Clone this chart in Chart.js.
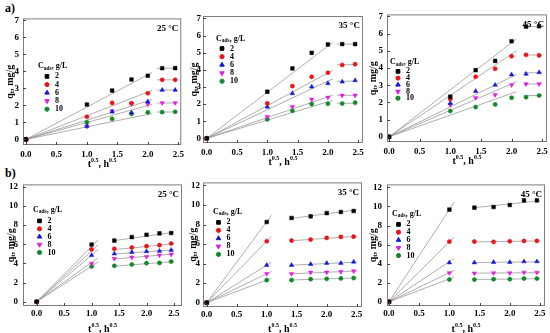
<!DOCTYPE html>
<html>
<head>
<meta charset="utf-8">
<script src="https://cdn.jsdelivr.net/npm/chart.js@4.4.1/dist/chart.umd.min.js"></script>
<style>
  html, body { margin: 0; padding: 0; background: #fff; }
  body { width: 550px; height: 333px; position: relative; overflow: hidden; }
  canvas { position: absolute; }
  .tag { position: absolute; font: bold 12px "Liberation Serif", serif; color: #000; }
</style>
</head>
<body>
<div class="tag" style="left:5px;top:1px">a)</div>
<div class="tag" style="left:5px;top:166px">b)</div>
<canvas id="a1"></canvas>
<canvas id="a2"></canvas>
<canvas id="a3"></canvas>
<canvas id="b1"></canvas>
<canvas id="b2"></canvas>
<canvas id="b3"></canvas>
<script>
// t^0.5 values (t = 0..6 h) and adsorbent doses
const sqrtT = [0, 1, 1.414, 1.732, 2, 2.236, 2.449];
const doses = ['2', '4', '6', '8', '10'];
const xTicks = [0, 0.5, 1, 1.5, 2, 2.5];
const yTicksA = [0, 1, 2, 3, 4, 5, 6, 7];
const yTicksB = [0, 2, 4, 6, 8, 10, 12];

// a) q_t, one row per dose (2, 4, 6, 8, 10 g/L)
const qA25 = [
  [0, 2.05, 2.87, 3.52, 3.74, 4.18, 4.19],
  [0, 1.33, 2.14, 2.12, 2.71, 3.50, 3.50],
  [0, 0.78, 1.62, 1.57, 2.22, 2.90, 2.90],
  [0, 0.76, 1.66, 2.10, 2.07, 2.14, 2.14],
  [0, 1.00, 1.20, 1.50, 1.59, 1.60, 1.62]
];
const qA35 = [
  [0, 2.72, 4.08, 4.99, 5.48, 5.50, 5.50],
  [0, 2.04, 3.05, 3.59, 3.83, 4.28, 4.33],
  [0, 1.84, 2.62, 3.01, 3.21, 3.30, 3.38],
  [0, 1.26, 1.84, 2.28, 2.39, 2.51, 2.51],
  [0, 1.11, 1.61, 2.00, 2.02, 2.03, 2.08]
];
const qA45 = [
  [0, 2.33, 3.87, 4.41, 5.55, 6.40, 6.42],
  [0, 2.19, 3.49, 3.95, 4.68, 4.76, 4.73],
  [0, 1.95, 2.65, 3.01, 3.61, 3.65, 3.74],
  [0, 1.86, 2.27, 2.44, 3.01, 3.07, 3.07],
  [0, 1.50, 1.73, 1.88, 2.27, 2.30, 2.40]
];
// b) q_t
const qB25 = [
  [0, 5.97, 6.38, 6.75, 6.99, 7.13, 7.17],
  [0, 5.46, 5.52, 5.66, 5.80, 5.90, 6.07],
  [0, 4.85, 5.01, 5.18, 5.25, 5.29, 5.39],
  [0, 3.99, 4.50, 4.64, 4.70, 4.85, 4.95],
  [0, 3.68, 3.75, 3.89, 4.03, 4.05, 4.19]
];
const qB35 = [
  [0, 8.26, 8.67, 8.84, 9.17, 9.28, 9.38],
  [0, 6.29, 6.36, 6.46, 6.63, 6.73, 6.76],
  [0, 3.84, 3.84, 3.94, 4.05, 4.05, 4.18],
  [0, 2.96, 2.96, 3.10, 3.12, 3.17, 3.23],
  [0, 2.31, 2.31, 2.41, 2.44, 2.48, 2.52]
];
const qB45 = [
  [0, 9.67, 9.87, 9.94, 10.15, 10.63, 10.63],
  [0, 6.31, 6.31, 6.28, 6.35, 6.38, 6.38],
  [0, 4.11, 4.11, 4.15, 4.15, 4.22, 4.22],
  [0, 3.02, 3.00, 3.02, 3.02, 3.08, 3.08],
  [0, 2.33, 2.33, 2.37, 2.37, 2.44, 2.44]
];

// fitted lines
// first stage: line from origin, y value at its end
const fitA25 = [3.93, 2.88, 2.34, 2.06, 1.52];
const fitA35 = [5.60, 3.97, 3.47, 2.52, 2.22];
const fitA45 = [5.68, 5.00, 3.62, 3.20, 2.62];
const fitB25 = [6.45, 5.95, 5.45, 4.60, 4.15];
const fitB35 = [8.95, 6.80, 4.15, 3.20, 2.50];
const fitB45 = [10.45, 6.80, 4.55, 3.30, 2.60];
// second stage: [start, end] y values
const tailA25 = [[4.18, 4.18], [3.50, 3.50], [2.90, 2.90], [2.14, 2.14], [1.61, 1.61]];
const tailA35 = [[5.50, 5.50], [4.30, 4.30], [3.34, 3.34], [2.51, 2.51], [2.05, 2.05]];
const tailA45 = [[6.40, 6.40], [4.75, 4.75], [3.72, 3.72], [3.07, 3.07], [2.40, 2.40]];
const tailB25 = [[6.35, 7.25], [5.42, 6.05], [4.97, 5.42], [4.45, 4.98], [3.70, 4.20]];
const tailB35 = [[8.60, 9.50], [6.33, 6.80], [3.83, 4.15], [2.95, 3.25], [2.32, 2.53]];
const tailB45 = [[9.85, 10.60], [6.28, 6.38], [4.12, 4.20], [3.00, 3.06], [2.34, 2.42]];

const colors = ['#000000', '#e8141b', '#1717d6', '#e01ee0', '#12882c'];
const shapes = ['rect', 'circle', 'triangle', 'triangle', 'circle'];
const rots = [0, 0, 0, 180, 0];
const radii = [2.6, 2.1, 2.6, 2.6, 2.1];
const FONT = '"Liberation Serif", serif';

const panels = [
  { id: 'a1', temp: '25 °C', q: qA25, fit: fitA25, fitX: 2.07, tail: tailA25, tailX: [2.15, 2.47],
    frame: [23, 17, 183, 145], xr: [-0.049, 2.549], yr: [-0.33, 7.11], yt: yTicksA,
    leg: [15, 48, 24, 58, 8.2], yPad: 4, yTitle: 13, xPad: 4, xTitle: 19 },
  { id: 'a2', temp: '35 °C', q: qA35, fit: fitA35, fitX: 2.08, tail: tailA35, tailX: [2.15, 2.47],
    frame: [203, 16, 363, 143], xr: [-0.061, 2.578], yr: [-0.27, 7.14], yt: yTicksA,
    leg: [13, 23, 19, 32.5, 8.2], yPad: 2, yTitle: 9, xPad: 4, xTitle: 19 },
  { id: 'a3', temp: '45 °C', q: qA45, fit: fitA45, fitX: 2.08, tail: tailA45, tailX: [2.2, 2.5],
    frame: [387, 13, 547, 142], xr: [-0.033, 2.577], yr: [-0.30, 7.11], yt: yTicksA,
    leg: [3, 48, 11, 57, 6.7], yPad: 4, yTitle: 14, xPad: 4, xTitle: 19 },
  { id: 'b1', temp: '25 °C', q: qB25, fit: fitB25, fitX: 1.12, tail: tailB25, tailX: [1.38, 2.5],
    frame: [23, 182, 182, 306], xr: [-0.249, 2.646], yr: [-0.44, 12.24], yt: yTicksB,
    leg: [10, 25.5, 16.5, 36.5, 7.9], yPad: 5, yTitle: 12, xPad: 2, xTitle: 23 },
  { id: 'b2', temp: '35 °C', q: qB35, fit: fitB35, fitX: 1.08, tail: tailB35, tailX: [1.38, 2.5],
    frame: [203, 182, 362, 307], xr: [-0.062, 2.588], yr: [-0.44, 12.31], yt: yTicksB,
    leg: [10, 29.5, 15.5, 40, 8], yPad: 3, yTitle: 10, xPad: 2, xTitle: 22 },
  { id: 'b3', temp: '45 °C', q: qB45, fit: fitB45, fitX: 1.08, tail: tailB45, tailX: [1.38, 2.5],
    frame: [387, 182, 545, 306], xr: [-0.033, 2.583], yr: [-0.44, 12.31], yt: yTicksB,
    leg: [5, 29.5, 11.5, 40, 7.8], yPad: 5, yTitle: 14, xPad: 2, xTitle: 23 }
];

function rich(ctx, parts, x, y, align) {
  let w = 0;
  parts.forEach(p => { ctx.font = 'bold ' + p[1] + 'px ' + FONT; w += ctx.measureText(p[0]).width; });
  let cx = align === 'center' ? x - w / 2 : (align === 'right' ? x - w : x);
  ctx.textAlign = 'left';
  ctx.textBaseline = 'middle';
  parts.forEach(p => {
    ctx.font = 'bold ' + p[1] + 'px ' + FONT;
    ctx.fillText(p[0], cx, y + (p[2] || 0));
    cx += ctx.measureText(p[0]).width;
  });
}

const decor = {
  id: 'decor',
  afterDraw(chart, args, o) {
    const { ctx, chartArea: a, scales: { x, y } } = chart;
    ctx.save();
    // frame
    ctx.strokeStyle = '#7d7d7d';
    ctx.lineWidth = 1;
    ctx.strokeRect(a.left + 0.5, a.top + 0.5, a.right - a.left - 1, a.bottom - a.top - 1);
    // inward ticks
    ctx.strokeStyle = '#444';
    ctx.beginPath();
    x.ticks.forEach(t => {
      const px = Math.round(x.getPixelForValue(t.value)) + 0.5;
      ctx.moveTo(px, a.bottom); ctx.lineTo(px, a.bottom - 3);
    });
    y.ticks.forEach(t => {
      const py = Math.round(y.getPixelForValue(t.value)) + 0.5;
      ctx.moveTo(a.left, py); ctx.lineTo(a.left + 3, py);
    });
    ctx.stroke();
    ctx.fillStyle = '#000';
    // temperature
    ctx.font = 'bold 9px ' + FONT;
    ctx.textAlign = 'right';
    ctx.textBaseline = 'middle';
    ctx.fillText(o.temp, a.right - 3, a.top + 10);
    // axis titles
    rich(ctx, [['t', 10], ['0.5', 6, -3.5], [', h', 10], ['0.5', 6, -3.5]], (a.left + a.right) / 2, a.bottom + o.xTitle, 'center');
    ctx.save();
    ctx.translate(a.left - o.yTitle, (a.top + a.bottom) / 2);
    ctx.rotate(-Math.PI / 2);
    rich(ctx, [['q', 10], ['t', 7, 2.5], [', mg/g', 10]], 0, 0, 'center');
    ctx.restore();
    // legend
    const [hx, hy, mx, ey, dy] = o.leg;
    rich(ctx, [['C', 8], ['ads', 5.5, 2], [', g/L', 8]], a.left + hx, a.top + hy, 'left');
    doses.forEach((d, i) => {
      const yy = a.top + ey + i * dy;
      ctx.fillStyle = colors[i];
      ctx.strokeStyle = colors[i];
      Chart.helpers.drawPoint(ctx, { pointStyle: shapes[i], rotation: rots[i], radius: radii[i], borderWidth: 0.5 }, a.left + mx, yy);
      ctx.fillStyle = '#000';
      ctx.font = 'bold 8px ' + FONT;
      ctx.textAlign = 'left';
      ctx.textBaseline = 'middle';
      ctx.fillText(d, a.left + mx + 8, yy);
    });
    ctx.restore();
  }
};

const PL = 22, PT = 8, PR = 5, PB = 30;

panels.forEach(p => {
  const [L, T, R, B] = p.frame;
  const cv = document.getElementById(p.id);
  const w = R - L + PL + PR, h = B - T + PT + PB;
  cv.width = w; cv.height = h;
  cv.style.left = (L - PL) + 'px';
  cv.style.top = (T - PT) + 'px';
  cv.style.width = w + 'px';
  cv.style.height = h + 'px';

  const datasets = [];
  p.q.forEach((row, i) => {
    datasets.push({
      data: row.map((v, j) => ({ x: sqrtT[j], y: v })),
      showLine: false,
      pointStyle: shapes[i],
      rotation: rots[i],
      pointRadius: radii[i],
      pointBackgroundColor: colors[i],
      pointBorderColor: colors[i],
      pointBorderWidth: 0.5,
      order: 0
    });
  });
  p.fit.forEach(v => {
    datasets.push({
      data: [{ x: 0, y: 0 }, { x: p.fitX, y: v }],
      showLine: true, borderColor: '#9a9a9a', borderWidth: 0.8, pointRadius: 0, order: 1
    });
  });
  p.tail.forEach(v => {
    datasets.push({
      data: [{ x: p.tailX[0], y: v[0] }, { x: p.tailX[1], y: v[1] }],
      showLine: true, borderColor: '#9a9a9a', borderWidth: 0.8, pointRadius: 0, order: 1
    });
  });

  const tickFont = { family: FONT, size: 9, weight: 'bold' };
  new Chart(cv, {
    type: 'scatter',
    data: { datasets },
    options: {
      responsive: false,
      animation: false,
      devicePixelRatio: 1,
      events: [],
      layout: { padding: { left: 0, top: PT, right: PR, bottom: 0 } },
      plugins: { legend: { display: false }, tooltip: { enabled: false }, decor: p },
      scales: {
        x: {
          type: 'linear', min: p.xr[0], max: p.xr[1],
          grid: { display: false, drawTicks: false }, border: { display: false },
          afterBuildTicks: s => { s.ticks = xTicks.map(v => ({ value: v })); },
          afterFit: s => { s.height = PB; },
          ticks: { font: tickFont, color: '#000', padding: p.xPad, maxRotation: 0, autoSkip: false,
                   callback: v => Number(v).toFixed(1) }
        },
        y: {
          type: 'linear', min: p.yr[0], max: p.yr[1],
          grid: { display: false, drawTicks: false }, border: { display: false },
          afterBuildTicks: s => { s.ticks = p.yt.map(v => ({ value: v })); },
          afterFit: s => { s.width = PL; },
          ticks: { font: tickFont, color: '#000', padding: p.yPad, autoSkip: false,
                   callback: v => String(v) }
        }
      }
    },
    plugins: [decor]
  });
});
</script>
</body>
</html>
